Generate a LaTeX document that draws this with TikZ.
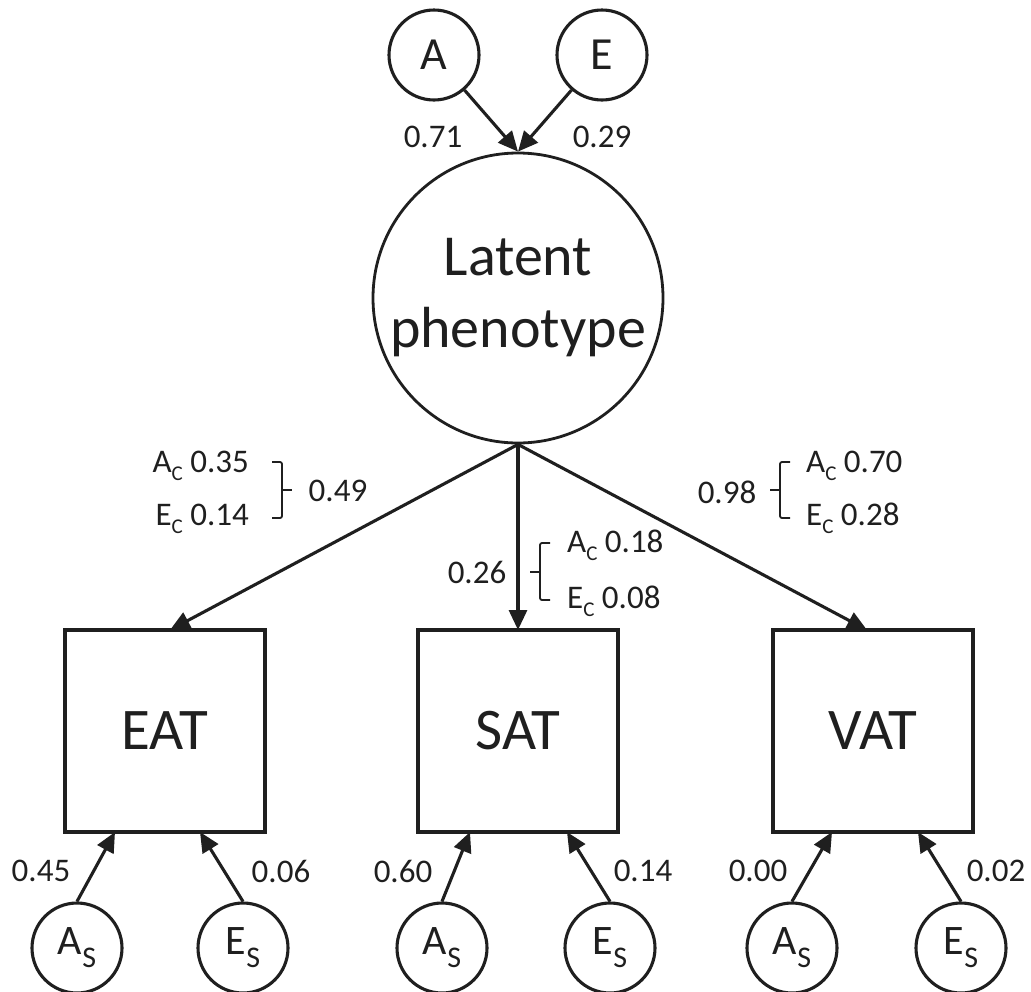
\documentclass[tikz,border=0pt]{standalone}
\usepackage{fontspec}
\setmainfont{Carlito}
\usetikzlibrary{arrows.meta}
% subscripted variance labels
\newcommand{\bigsub}[2]{#1\raisebox{-13pt}{\fontsize{30}{30}\selectfont #2}}
\newcommand{\smallsub}[2]{#1\raisebox{-8pt}{\fontsize{21}{21}\selectfont #2}}
\begin{document}
\begin{tikzpicture}[x=1pt,y=-1pt,
  ink/.style={draw=black!88},
  varc/.style={ink, circle, line width=3.1pt, inner sep=0pt, minimum size=90pt},
  latc/.style={ink, circle, line width=2.8pt, inner sep=0pt, minimum size=290pt,
    align=center, font=\fontsize{58}{72}\selectfont},
  obsbox/.style={ink, rectangle, line width=3.1pt, inner sep=0pt,
    minimum width=200pt, minimum height=202pt, font=\fontsize{59}{60}\selectfont},
  path/.style={ink, line width=3.1pt, -{Triangle[length=20pt,width=18pt]}},
  coef/.style={inner sep=0pt, text=black!88, font=\fontsize{33}{36}\selectfont},
  brk/.style={ink, line width=1.8pt, rounded corners=2pt},
  top/.style={font=\fontsize{46}{46}\selectfont, text=black!88},
  bot/.style={font=\fontsize{42}{42}\selectfont, text=black!88}]
\useasboundingbox (0,0) rectangle (1031,991);

% common factors A and E
\node[varc, top] (A) at (434,55) {A};
\node[varc, top] (E) at (602,55) {E};

% latent phenotype
\node[latc, text=black!88] (lat) at (518,298) {Latent\\phenotype};

% observed traits
\node[obsbox, text=black!88] (eat) at (165,731) {EAT};
\node[obsbox, text=black!88] (sat) at (518,731) {SAT};
\node[obsbox, text=black!88] (vat) at (873,731) {VAT};

% specific factors
\node[varc, bot] (eatA) at (77,948)  {\bigsub{A}{S}};
\node[varc, bot] (eatE) at (243,948) {\bigsub{E}{S}};
\node[varc, bot] (satA) at (442,948) {\bigsub{A}{S}};
\node[varc, bot] (satE) at (610,948) {\bigsub{E}{S}};
\node[varc, bot] (vatA) at (792,948) {\bigsub{A}{S}};
\node[varc, bot] (vatE) at (961,948) {\bigsub{E}{S}};

% arrow end points on the boxes
\coordinate (eatT)  at (170,630);
\coordinate (satT)  at (518,630);
\coordinate (vatT)  at (867,630);
\coordinate (eatBA) at (115,832);
\coordinate (eatBE) at (200,832);
\coordinate (satBA) at (470,832);
\coordinate (satBE) at (567,832);
\coordinate (vatBA) at (832,832);
\coordinate (vatBE) at (918,832);

% paths
\draw[path] (A) -- (lat.north);
\draw[path] (E) -- (lat.north);
\draw[path] (lat.south) -- (eatT);
\draw[path] (lat.south) -- (satT);
\draw[path] (lat.south) -- (vatT);
\draw[path] (eatA.north) -- (eatBA);
\draw[path] (eatE.north) -- (eatBE);
\draw[path] (satA.north) -- (satBA);
\draw[path] (satE.north) -- (satBE);
\draw[path] (vatA.north) -- (vatBA);
\draw[path] (vatE.north) -- (vatBE);

% loadings
\node[coef] (cA) at (433,137) {0.71};
\node[coef] (cE) at (602,137) {0.29};
\node[coef] (c1) at (41,871)  {0.45};
\node[coef] (c2) at (281,871) {0.06};
\node[coef] (c3) at (403,871) {0.60};
\node[coef] (c4) at (643,871) {0.14};
\node[coef] (c5) at (758,871) {0.00};
\node[coef] (c6) at (996,871) {0.02};

% EAT loading and its decomposition
\node[coef, anchor=base east] (ea1) at (249,472) {\smallsub{A}{C} 0.35};
\node[coef, anchor=base east] (ea2) at (249,525) {\smallsub{E}{C} 0.14};
\draw[brk] (272,462) -- (282,462) -- (282,518) -- (272,518);
\draw[brk] (282,490) -- (292,490);
\node[coef] (et) at (338,491) {0.49};

% SAT loading and its decomposition
\node[coef] (st) at (477,572) {0.26};
\draw[brk] (550,543) -- (540,543) -- (540,600) -- (550,600);
\draw[brk] (540,572) -- (530,572);
\node[coef, anchor=base west] (sa1) at (567,552) {\smallsub{A}{C} 0.18};
\node[coef, anchor=base west] (sa2) at (567,608) {\smallsub{E}{C} 0.08};

% VAT loading and its decomposition
\node[coef] (vt) at (727,492) {0.98};
\draw[brk] (790,462) -- (780,462) -- (780,518) -- (790,518);
\draw[brk] (780,490) -- (770,490);
\node[coef, anchor=base west] (va1) at (806,472) {\smallsub{A}{C} 0.70};
\node[coef, anchor=base west] (va2) at (806,525) {\smallsub{E}{C} 0.28};
\end{tikzpicture}
\end{document}
